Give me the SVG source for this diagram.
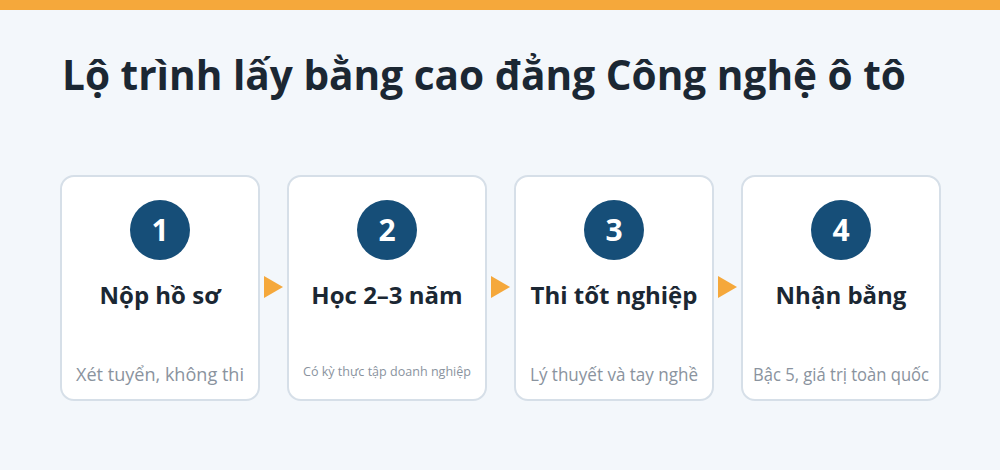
<svg xmlns="http://www.w3.org/2000/svg" width="1000" height="470" viewBox="0 0 1000 470">
<style>
.card{fill:#FFFFFF;stroke:#D6DFE8;stroke-width:2}
.badge{fill:#164E78}
.num{font-family:"Open Sans","Noto Sans",sans-serif;font-weight:700;font-size:30px;fill:#FFFFFF;text-anchor:middle}
.ttl{font-family:"Open Sans","Noto Sans",sans-serif;font-weight:700;font-size:24px;fill:#1B2733;text-anchor:middle}
.sub{font-family:"Open Sans","Noto Sans",sans-serif;font-size:18px;fill:#8A939E;text-anchor:middle}
.arr{fill:#F5A83B}
</style>
<rect x="0" y="0" width="1000" height="470" fill="#F3F7FB"/>
<rect x="0" y="0" width="1000" height="10" fill="#F5A83B"/>
<text x="62" y="90" font-family="'Open Sans','Noto Sans',sans-serif" font-weight="700" font-size="42" fill="#1B2733" textLength="844" lengthAdjust="spacingAndGlyphs">Lộ trình lấy bằng cao đẳng Công nghệ ô tô</text>
<g id="connectors">
<polygon class="arr" points="264,276 283,287 264,298"/>
<polygon class="arr" points="491,276 510,287 491,298"/>
<polygon class="arr" points="718,276 737,287 718,298"/>
</g>
<g id="step1">
<rect class="card" x="61" y="176" width="198" height="224" rx="13"/>
<circle class="badge" cx="160" cy="230" r="30"/>
<text class="num" x="160" y="241">1</text>
<text class="ttl" x="160" y="304">Nộp hồ sơ</text>
<text class="sub" x="160" y="381" textLength="168" lengthAdjust="spacingAndGlyphs">Xét tuyển, không thi</text>
</g>
<g id="step2">
<rect class="card" x="288" y="176" width="198" height="224" rx="13"/>
<circle class="badge" cx="387" cy="230" r="30"/>
<text class="num" x="387" y="241">2</text>
<text class="ttl" x="387" y="304">Học 2–3 năm</text>
<text class="sub" x="387" y="376" style="font-size:12.5px" textLength="168" lengthAdjust="spacingAndGlyphs">Có kỳ thực tập doanh nghiệp</text>
</g>
<g id="step3">
<rect class="card" x="515" y="176" width="198" height="224" rx="13"/>
<circle class="badge" cx="614" cy="230" r="30"/>
<text class="num" x="614" y="241">3</text>
<text class="ttl" x="614" y="304">Thi tốt nghiệp</text>
<text class="sub" x="614" y="381" textLength="168" lengthAdjust="spacingAndGlyphs">Lý thuyết và tay nghề</text>
</g>
<g id="step4">
<rect class="card" x="742" y="176" width="198" height="224" rx="13"/>
<circle class="badge" cx="841" cy="230" r="30"/>
<text class="num" x="841" y="241">4</text>
<text class="ttl" x="841" y="304">Nhận bằng</text>
<text class="sub" x="841" y="381" textLength="176" lengthAdjust="spacingAndGlyphs">Bậc 5, giá trị toàn quốc</text>
</g>
</svg>
